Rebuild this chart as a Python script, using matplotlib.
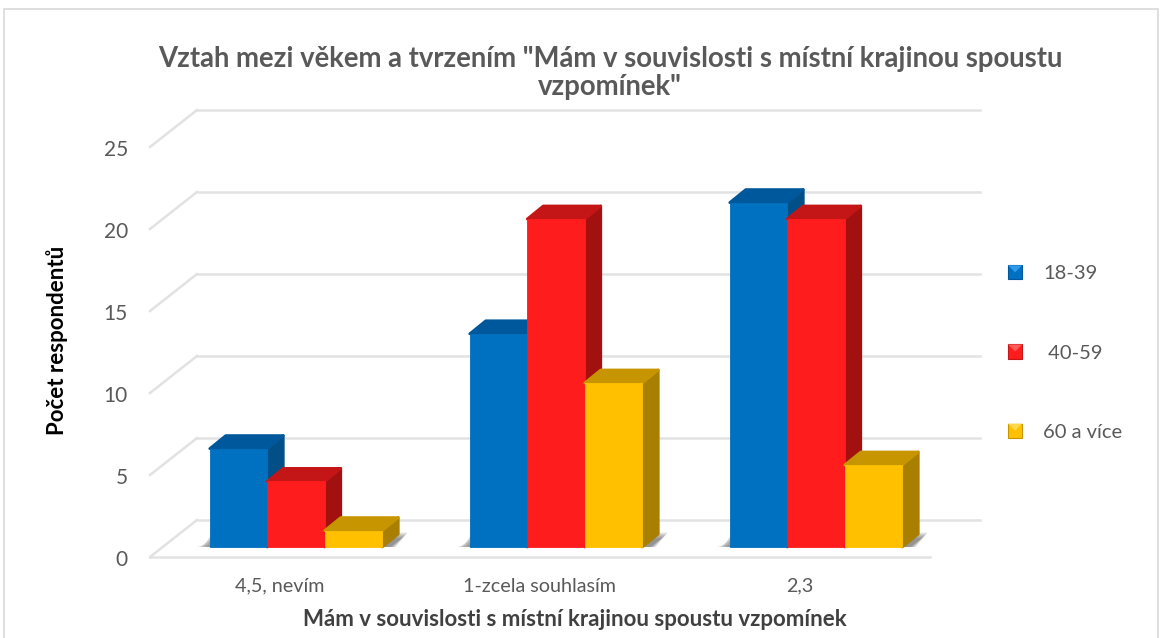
import numpy as np
import matplotlib
matplotlib.use('Agg')
import matplotlib.pyplot as plt
from matplotlib.legend_handler import HandlerBase
from matplotlib.patches import Polygon, Rectangle
from matplotlib.transforms import ScaledTranslation

plt.rcParams['font.family'] = ['Lato', 'DejaVu Sans']

# data
categories = ['4,5, nevím', '1-zcela souhlasím', '2,3']
series_names = ['18-39', ' 40-59', '60 a více']
v_18_39 = [6, 13, 21]
v_40_59 = [4, 20, 20]
v_60_plus = [1, 10, 5]
y_ticks = [0, 5, 10, 15, 20, 25]

W, H = 1165, 638
front_cols = ['#0070C0', '#FF1C1C', '#FFC000']
top_cols = ['#00589C', '#C41616', '#C79500']
side_cols = ['#004F87', '#A31010', '#A87F00']
light_cols = ['#2F9BE8', '#FF5A5A', '#FFD84A']
grid_col = '#E2E2E2'
text_col = '#595959'

# axes box = front plane of the fake 3D chart, in pixels
L, R, B, T = 150, 930, 557, 147
fig = plt.figure(figsize=(W / 100, H / 100), dpi=100)
ax = fig.add_axes([L / W, 1 - B / H, (R - L) / W, (B - T) / H])
ax.set_xlim(0, 3)
ax.set_ylim(0, 25)
ax.patch.set_alpha(0)

px_x = 3 / (R - L)
px_y = 25 / (B - T)

# oblique offsets
wall_dx, wall_dy = 47 * px_x, 37 * px_y
bar_dx, bar_dy = 16 * px_x, 13 * px_y
base_y = 10 * px_y
group_shift = 16 * px_x
bar_w = 57.5 * px_x

# outer border of the chart
fig.add_artist(Rectangle((4 / W, -0.02), 1154 / W, 1.02 - 9 / H, transform=fig.transFigure,
                         fill=False, ec='#D9D9D9', lw=1.2))

# walls and floor
for t in y_ticks:
    ax.plot([0, wall_dx], [t, t + wall_dy], color=grid_col, lw=1.8, clip_on=False, zorder=1)
    ax.plot([wall_dx, wall_dx + 783 * px_x], [t + wall_dy, t + wall_dy], color=grid_col, lw=1.8,
            clip_on=False, zorder=1)
ax.plot([0, 3], [0, 0], color=grid_col, lw=1.8, clip_on=False, zorder=1)

# soft shadow behind each group
for i in range(3):
    x0 = i + 0.5 + group_shift - 1.5 * bar_w
    x1 = x0 + 3 * bar_w
    for grow in np.arange(1, 15, 2):
        ax.add_patch(Polygon([(x0 - grow * px_x, base_y), (x0 + (2 - grow / 2) * px_x, base_y + (15 - grow) * px_y),
                              (x1 + bar_dx + (10 - grow / 2) * px_x, base_y + (15 - grow / 2) * px_y),
                              (x1 + (14 - grow / 2) * px_x, base_y)],
                             fc='#444444', ec='none', alpha=0.11, zorder=2))

# bars
for s, vals in enumerate([v_18_39, v_40_59, v_60_plus]):
    for i, v in enumerate(vals):
        x0 = i + 0.5 + group_shift + (s - 1.5) * bar_w
        x1 = x0 + bar_w
        y0 = base_y
        y1 = base_y + v
        z = 3 + s
        ax.add_patch(Polygon([(x1, y0), (x1 + bar_dx, y0 + bar_dy), (x1 + bar_dx, y1 + bar_dy), (x1, y1)],
                             fc=side_cols[s], ec=side_cols[s], lw=2, joinstyle='round', zorder=z))
        ax.add_patch(Polygon([(x0, y1), (x0 + bar_dx, y1 + bar_dy), (x1 + bar_dx, y1 + bar_dy), (x1, y1)],
                             fc=top_cols[s], ec=top_cols[s], lw=2, joinstyle='round', zorder=z))
        ax.bar(x0, v, width=bar_w, bottom=y0, align='edge', color=front_cols[s],
               edgecolor=front_cols[s], lw=0.6, zorder=z + 0.5)

# ticks and labels
for sp in ax.spines.values():
    sp.set_visible(False)
ax.set_xticks([0.5, 1.5, 2.5])
ax.set_xticklabels(categories, fontsize=14.2, color=text_col)
ax.set_yticks(y_ticks)
ax.tick_params(axis='y', labelsize=15, labelcolor=text_col, length=0, pad=16)
ax.tick_params(axis='x', length=0, pad=15)
# the numbers sit a bit below the grid corners
for lbl in ax.get_yticklabels():
    lbl.set_transform(lbl.get_transform() + ScaledTranslation(0, -1.5 / 100, fig.dpi_scale_trans))

fig.text(575 / W, 1 - 619 / H, 'Mám v souvislosti s místní krajinou spoustu vzpomínek', fontsize=16,
         fontweight='bold', color='#404040', ha='center', va='center')
fig.text(57 / W, 1 - 340 / H, 'Počet respondentů', fontsize=16, fontweight='bold', color='black',
         rotation=90, ha='center', va='center')
fig.text(610 / W, 1 - 73 / H, 'Vztah mezi věkem a tvrzením "Mám v souvislosti s místní krajinou spoustu\nvzpomínek"',
         fontsize=19.8, fontweight='bold', color=text_col, ha='center', va='center', linespacing=1.12)


# legend keys look like little pyramids
class PyramidKey(HandlerBase):
    def create_artists(self, legend, orig, xd, yd, w, h, fontsize, trans):
        side = min(w, h)
        x = (w - side) / 2 - xd
        y = (h - side) / 2 - yd
        sq = Rectangle((x, y), side, side, fc=orig.get_facecolor(), ec=orig.get_edgecolor(), lw=0.8,
                       transform=trans)
        tri = Polygon([(x, y + side), (x + side, y + side), (x + side / 2, y + side / 2)],
                      fc=orig.get_label(), ec='none', transform=trans)
        return [sq, tri]


keys = []
for s, name in enumerate(series_names):
    keys.append(Rectangle((0, 0), 1, 1, fc=front_cols[s], ec=top_cols[s], label=light_cols[s]))
leg = fig.legend(keys, series_names, loc='center left', bbox_to_anchor=(1008 / W, 1 - 353 / H),
                 frameon=False, fontsize=14.5, labelcolor=text_col, labelspacing=3.08,
                 handlelength=0.7, handleheight=0.7, handletextpad=1.05, borderpad=0, borderaxespad=0,
                 handler_map={Rectangle: PyramidKey()})

fig.savefig('out.png', dpi=100)
